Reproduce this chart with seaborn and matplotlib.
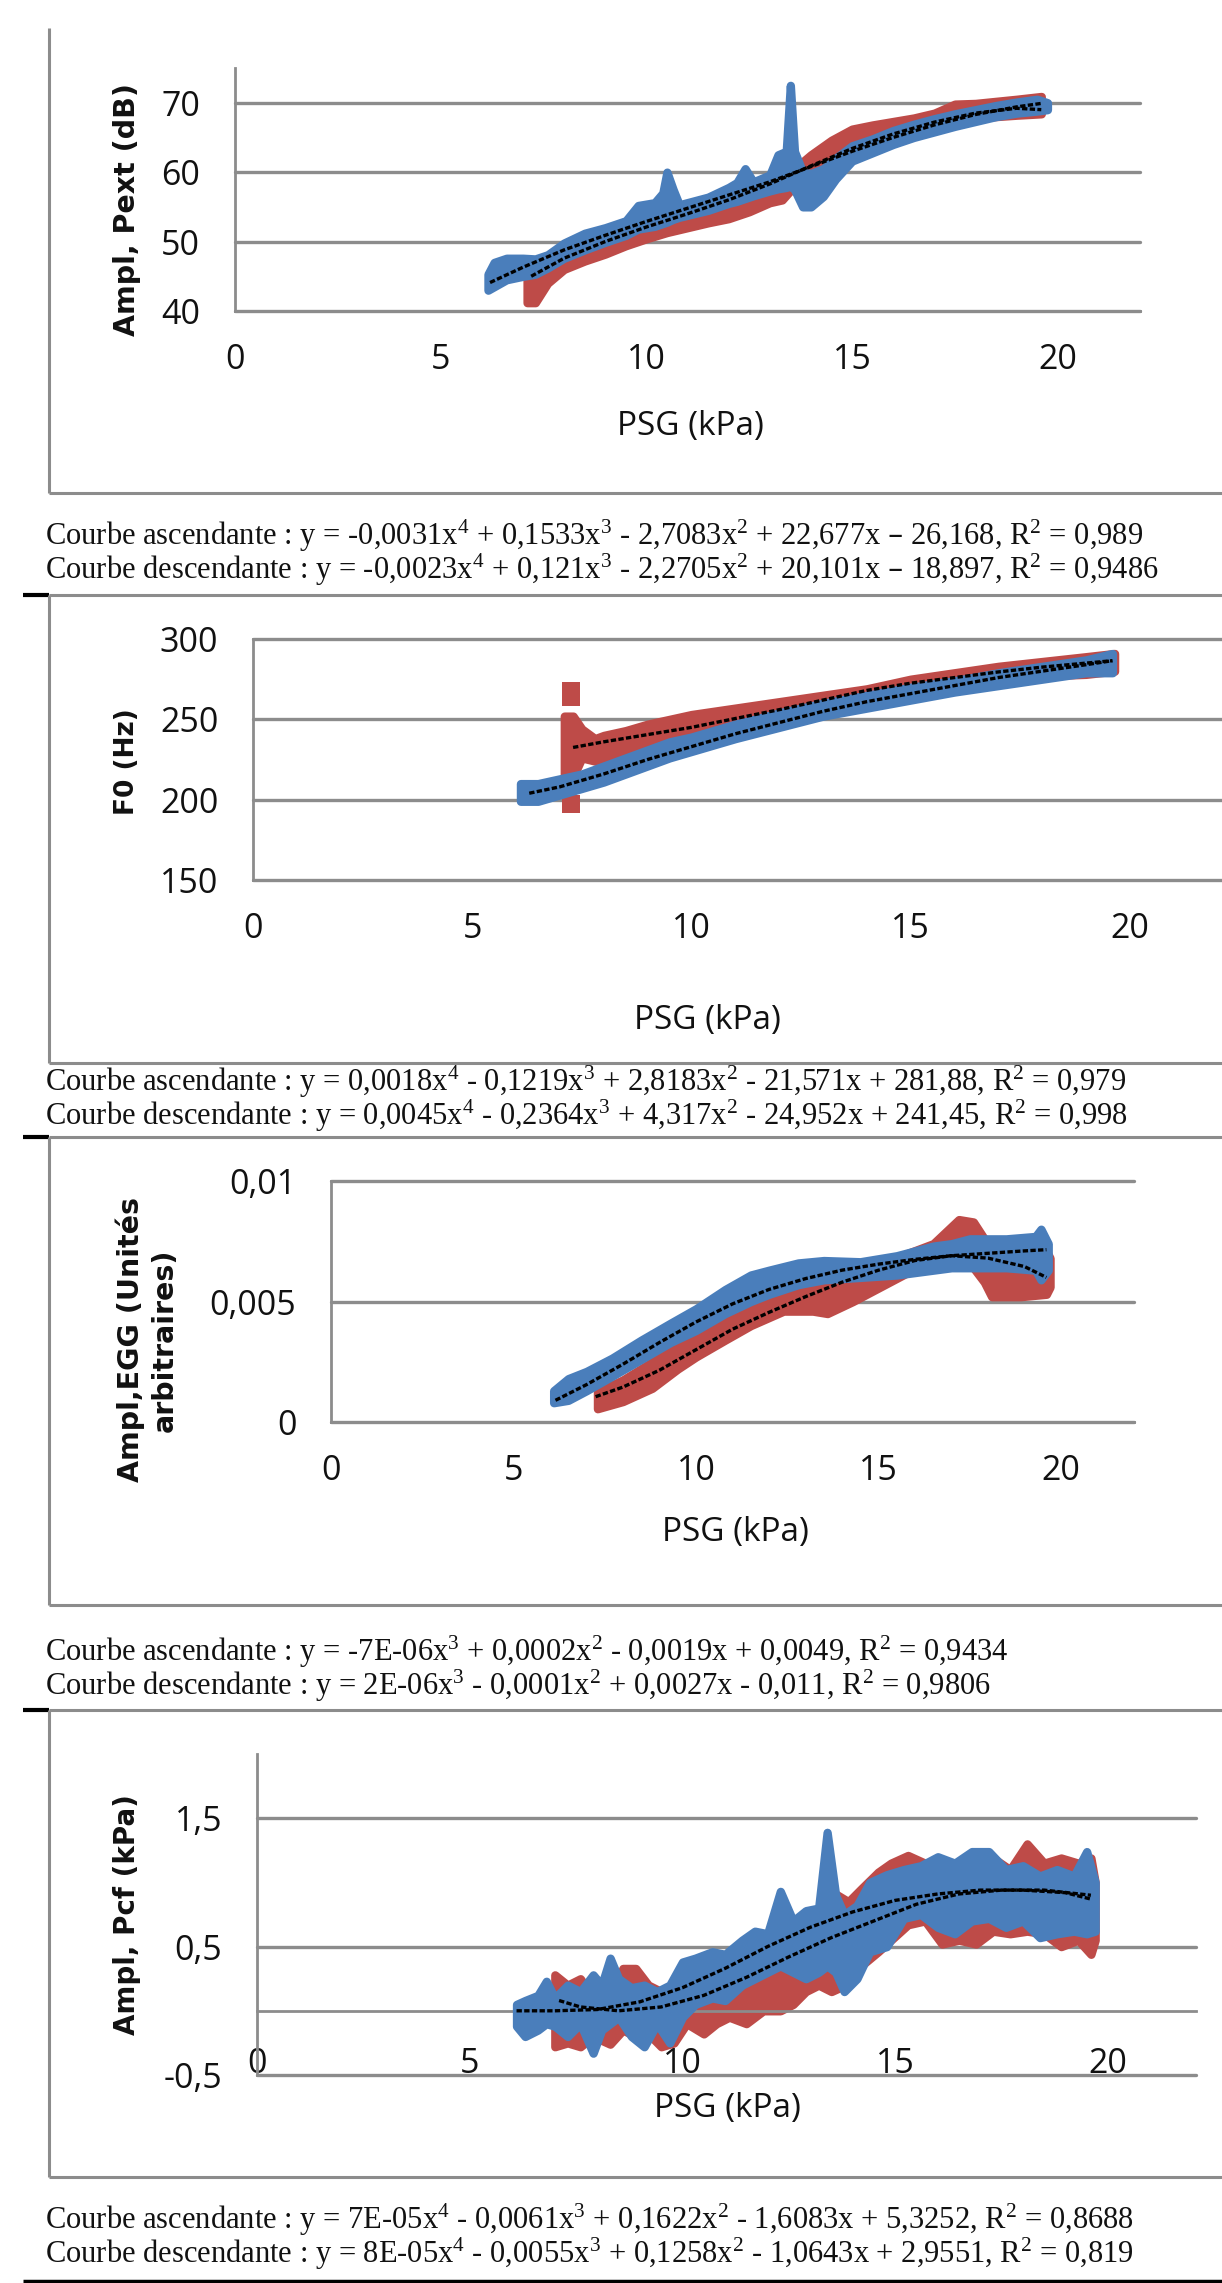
import matplotlib
matplotlib.use("Agg")
import matplotlib.pyplot as plt
import seaborn as sns

W, H = 1222, 2283
BLUE = "#4a7ebb"
RED = "#be4b48"
GRID = "#8c8c8c"

# ---------------- data ----------------
# Panel 1 : Ampl, Pext (dB)
pext_blue_x = [6.15, 6.3, 6.6, 7.0, 7.3, 7.6, 8.0, 8.5, 9.0, 9.5, 9.8, 10.2, 10.4, 10.5, 10.65,
               10.8, 11.5, 12.0, 12.2, 12.4, 12.6, 13.0, 13.2, 13.4, 13.5, 13.6, 13.8, 14.0,
               14.3, 14.6, 15.0, 15.5, 16.0, 16.5, 17.0, 17.5, 18.0, 18.5, 19.0, 19.5, 19.75]
pext_blue_lo = [43.0, 43.5, 44.5, 45.0, 45.3, 46.2, 47.6, 48.8, 49.9, 50.9, 51.8, 52.2, 52.6, 52.8,
                53.2, 53.5, 54.5, 55.5, 55.8, 56.2, 56.6, 57.3, 57.6, 57.8, 58.0, 57.5, 55.0, 55.0,
                56.5, 59.0, 61.6, 62.8, 64.0, 65.0, 65.8, 66.6, 67.3, 68.0, 68.5, 68.8, 69.0]
pext_blue_hi = [45.3, 47.0, 47.6, 47.6, 47.5, 48.1, 49.8, 51.2, 52.0, 53.0, 55.2, 55.6, 57.0, 60.0,
                57.5, 55.3, 56.4, 57.8, 58.5, 60.5, 58.6, 59.6, 62.5, 63.0, 72.5, 63.0, 60.0, 59.8,
                60.5, 62.0, 63.8, 64.8, 66.0, 66.9, 67.7, 68.4, 69.0, 69.6, 70.1, 70.5, 70.0]
pext_red_x = [7.1, 7.3, 7.6, 8.0, 8.5, 9.0, 9.5, 10.0, 10.5, 11.0, 11.5, 12.0, 12.5, 13.0, 13.3,
              13.6, 14.0, 14.5, 15.0, 15.5, 16.0, 16.5, 17.0, 17.5, 18.0, 18.5, 19.0, 19.6]
pext_red_lo = [41.2, 41.2, 44.0, 46.0, 47.2, 48.2, 49.4, 50.4, 51.3, 52.0, 52.7, 53.3, 54.3, 55.6,
               56.0, 58.0, 59.0, 60.8, 62.4, 63.8, 64.8, 65.6, 66.4, 67.2, 67.8, 68.0, 68.2, 68.4]
pext_red_hi = [44.8, 45.5, 47.0, 48.6, 49.6, 50.8, 51.9, 53.0, 53.8, 54.5, 55.2, 56.0, 57.0, 58.3,
               58.8, 60.5, 62.5, 64.6, 66.2, 66.8, 67.3, 67.8, 68.5, 69.8, 69.9, 70.2, 70.5, 70.9]
pext_fit_blue_x = [6.2, 7, 8, 9, 10, 11, 12, 13, 14, 15, 16, 17, 18, 19, 19.6]
pext_fit_blue_y = [44.1, 46.3, 48.8, 50.9, 52.9, 54.8, 56.7, 58.6, 60.8, 63.0, 65.0, 66.8, 68.3, 69.4, 69.9]
pext_fit_red_x = [7.2, 8, 9, 10, 11, 12, 13, 14, 15, 16, 17, 18, 19, 19.6]
pext_fit_red_y = [45.0, 47.6, 50.0, 52.1, 54.0, 56.0, 58.3, 60.9, 63.4, 65.5, 67.2, 68.5, 69.2, 69.0]

# Panel 2 : F0 (Hz)
f0_blue_x = [6.1, 6.5, 7.0, 7.5, 8.0, 8.5, 9.0, 9.5, 10.0, 11.0, 12.0, 13.0, 14.0, 15.0, 16.0,
             17.0, 18.0, 19.0, 19.6]
f0_blue_lo = [199, 199, 203, 207, 211, 216, 221, 226, 230, 238, 245, 252, 257, 262, 267, 271, 275, 279, 279]
f0_blue_hi = [210, 210, 213, 216, 221, 226, 231, 236, 239, 247, 254, 260, 265, 270, 274, 279, 283, 287, 291]
f0_red_x = [7.1, 7.3, 7.5, 7.8, 8.0, 8.5, 9.0, 9.5, 10.0, 11.0, 12.0, 13.0, 14.0, 15.0, 16.0,
            17.0, 18.0, 19.0, 19.65]
f0_red_lo = [216, 214, 226, 224, 223, 228, 235, 238, 241, 247, 252, 256, 261, 266, 271, 275, 277, 278, 280]
f0_red_hi = [252, 252, 244, 238, 240, 243, 247, 250, 253, 257, 261, 265, 269, 275, 279, 283, 286, 289, 291]
f0_red_out_x = [7.25, 7.25, 7.25]
f0_red_out_y = [267.5, 264.0, 197.0]
f0_fit_blue_x = [6.3, 7, 8, 9, 10, 11, 12, 13, 14, 15, 16, 17, 18, 19, 19.6]
f0_fit_blue_y = [204, 208, 216, 225, 233, 241, 248, 255, 261, 266, 271, 276, 280, 284, 286.5]
f0_fit_red_x = [7.3, 8, 9, 10, 11, 12, 13, 14, 15, 16, 17, 18, 19, 19.6]
f0_fit_red_y = [232.5, 236, 240.5, 245, 250.5, 256, 262, 268, 272.5, 276, 279.5, 282.5, 285, 286.5]

# Panel 3 : Ampl, EGG (arbitrary units)
egg_blue_x = [6.1, 6.5, 7.0, 7.7, 8.5, 9.3, 10.0, 10.8, 11.5, 12.0, 12.8, 13.5, 14.5, 15.5,
              16.5, 17.0, 17.5, 18.5, 19.3, 19.45, 19.65]
egg_blue_lo = [0.0008, 0.0009, 0.0013, 0.0019, 0.0026, 0.0033, 0.0038, 0.0045, 0.0050, 0.0053, 0.0057,
               0.0059, 0.0060, 0.0061, 0.0063, 0.0064, 0.0064, 0.0064, 0.0063, 0.0059, 0.0063]
egg_blue_hi = [0.0013, 0.0018, 0.0021, 0.00265, 0.0034, 0.0041, 0.0047, 0.0055, 0.0061, 0.0063, 0.0066,
               0.0067, 0.00665, 0.0069, 0.0073, 0.0074, 0.0076, 0.0076, 0.0077, 0.0080, 0.0074]
egg_red_x = [7.3, 8.0, 8.8, 9.5, 10.0, 10.8, 11.5, 12.4, 13.2, 13.6, 14.3, 15.3, 15.8, 16.5,
             17.2, 17.6, 17.9, 18.1, 18.9, 19.6, 19.7]
egg_red_lo = [0.00055, 0.00085, 0.0014, 0.0022, 0.0027, 0.0034, 0.0040, 0.0046, 0.0046, 0.0045, 0.0050,
              0.0058, 0.0062, 0.0064, 0.0065, 0.0064, 0.0058, 0.0052, 0.0052, 0.0053, 0.0056]
egg_red_hi = [0.00125, 0.00175, 0.0025, 0.0033, 0.00395, 0.0046, 0.0051, 0.0055, 0.0056, 0.0058, 0.0059,
              0.0065, 0.0070, 0.0074, 0.0084, 0.0083, 0.0076, 0.0072, 0.0071, 0.0071, 0.0068]
egg_fit_blue_x = [6.15, 7, 8, 9, 10, 11, 12, 13, 14, 15, 16, 17, 18, 19, 19.6]
egg_fit_blue_y = [0.0009, 0.00155, 0.0024, 0.0033, 0.00415, 0.0049, 0.0055, 0.00595, 0.0063, 0.00655,
                  0.00675, 0.0069, 0.0070, 0.0071, 0.00715]
egg_fit_red_x = [7.25, 8, 9, 10, 11, 12, 13, 14, 15, 16, 17, 18, 19, 19.6]
egg_fit_red_y = [0.00105, 0.00145, 0.00215, 0.0030, 0.00385, 0.00455, 0.0052, 0.0058, 0.0063, 0.0067,
                 0.0069, 0.0068, 0.00645, 0.0060]

# Panel 4 : Ampl, Pcf (kPa)
pcf_blue_x = [6.1, 6.3, 6.6, 6.8, 7.0, 7.3, 7.6, 7.9, 8.1, 8.3, 8.5, 8.8, 9.1, 9.4, 9.7, 10.0,
              10.3, 10.7, 11.0, 11.4, 11.7, 12.0, 12.3, 12.6, 12.9, 13.2, 13.4, 13.6, 13.8, 14.1,
              14.4, 14.8, 15.2, 15.6, 16.0, 16.4, 16.8, 17.2, 17.6, 18.0, 18.4, 18.8, 19.2, 19.5, 19.7]
pcf_blue_lo = [-0.12, -0.2, -0.15, -0.1, -0.12, -0.2, -0.1, -0.33, -0.15, -0.1, -0.05, -0.2, -0.28,
               -0.1, -0.25, -0.05, 0.05, 0.1, 0.08, 0.2, 0.25, 0.3, 0.35, 0.3, 0.25, 0.3, 0.35, 0.3,
               0.15, 0.25, 0.46, 0.5, 0.72, 0.75, 0.65, 0.6, 0.7, 0.72, 0.65, 0.7, 0.57, 0.6, 0.62,
               0.6, 0.62]
pcf_blue_hi = [0.05, 0.08, 0.12, 0.23, 0.1, 0.2, 0.15, 0.28, 0.2, 0.41, 0.25, 0.18, 0.2, 0.15, 0.2,
               0.38, 0.41, 0.46, 0.44, 0.55, 0.62, 0.6, 0.93, 0.7, 0.78, 0.8, 1.39, 0.9, 0.75, 0.82,
               1.0, 1.06, 1.1, 1.13, 1.2, 1.15, 1.24, 1.24, 1.1, 1.13, 1.05, 1.1, 1.05, 1.24, 1.0]
pcf_red_x = [7.0, 7.3, 7.6, 7.9, 8.3, 8.6, 8.9, 9.2, 9.5, 9.8, 10.1, 10.5, 10.8, 11.1, 11.5, 11.9,
             12.3, 12.6, 12.9, 13.2, 13.5, 13.9, 14.2, 14.6, 14.9, 15.3, 15.7, 16.1, 16.5, 16.9,
             17.3, 17.7, 18.1, 18.5, 18.9, 19.3, 19.6, 19.7]
pcf_red_lo = [-0.28, -0.25, -0.28, -0.2, -0.26, -0.15, -0.2, -0.18, -0.28, -0.25, -0.1, -0.18, -0.1,
              -0.05, -0.1, 0.0, 0.0, 0.05, 0.15, 0.2, 0.15, 0.21, 0.35, 0.46, 0.55, 0.67, 0.7, 0.52,
              0.55, 0.52, 0.62, 0.6, 0.62, 0.6, 0.5, 0.55, 0.44, 0.55]
pcf_red_hi = [0.28, 0.2, 0.25, 0.1, 0.1, 0.33, 0.33, 0.2, 0.15, 0.1, 0.2, 0.15, 0.2, 0.3, 0.31, 0.35,
              0.41, 0.45, 0.7, 0.8, 0.93, 0.85, 0.95, 1.08, 1.15, 1.21, 1.15, 1.13, 1.0, 1.1, 1.19,
              1.1, 1.3, 1.15, 1.19, 1.15, 1.19, 1.0]
pcf_fit_blue_x = [6.1, 7, 8, 9, 10, 11, 12, 13, 14, 15, 16, 17, 18, 19, 19.6]
pcf_fit_blue_y = [0.0, 0.0, 0.01, 0.07, 0.18, 0.33, 0.5, 0.65, 0.77, 0.86, 0.91, 0.94, 0.94, 0.92, 0.87]
pcf_fit_red_x = [7.1, 7.6, 8.5, 9.5, 10.5, 11.5, 12.5, 13.5, 14.5, 15.5, 16.5, 17.5, 18.5, 19.6]
pcf_fit_red_y = [0.08, 0.03, 0.0, 0.03, 0.12, 0.26, 0.42, 0.57, 0.7, 0.83, 0.91, 0.94, 0.94, 0.9]

x_ticks = [0, 5, 10, 15, 20]
x_ticklabels = ["0", "5", "10", "15", "20"]

eq_lines = [
    ["Courbe ascendante : y = -0,0031x$^{4}$ + 0,1533x$^{3}$ - 2,7083x$^{2}$ + 22,677x \u2013 26,168, R$^{2}$ = 0,989",
     "Courbe descendante : y = -0,0023x$^{4}$ + 0,121x$^{3}$ - 2,2705x$^{2}$ + 20,101x \u2013 18,897, R$^{2}$ = 0,9486"],
    ["Courbe ascendante : y = 0,0018x$^{4}$ - 0,1219x$^{3}$ + 2,8183x$^{2}$ - 21,571x + 281,88, R$^{2}$ = 0,979",
     "Courbe descendante : y = 0,0045x$^{4}$ - 0,2364x$^{3}$ + 4,317x$^{2}$ - 24,952x + 241,45, R$^{2}$ = 0,998"],
    ["Courbe ascendante : y = -7E-06x$^{3}$ + 0,0002x$^{2}$ - 0,0019x + 0,0049, R$^{2}$ = 0,9434",
     "Courbe descendante : y = 2E-06x$^{3}$ - 0,0001x$^{2}$ + 0,0027x - 0,011, R$^{2}$ = 0,9806"],
    ["Courbe ascendante : y = 7E-05x$^{4}$ - 0,0061x$^{3}$ + 0,1622x$^{2}$ - 1,6083x + 5,3252, R$^{2}$ = 0,8688",
     "Courbe descendante : y = 8E-05x$^{4}$ - 0,0055x$^{3}$ + 0,1258x$^{2}$ - 1,0643x + 2,9551, R$^{2}$ = 0,819"],
]

# ---------------- style ----------------
sns.set_style("white")
plt.rcParams["font.family"] = ["Open Sans", "DejaVu Sans"]
plt.rcParams["mathtext.default"] = "regular"

fig = plt.figure(figsize=(W / 100, H / 100), dpi=100)

bg = fig.add_axes([0, 0, 1, 1])
bg.set_xlim(0, W)
bg.set_ylim(H, 0)
bg.axis("off")


def rect(l, t, r, b):
    return [l / W, 1 - b / H, (r - l) / W, (b - t) / H]


def hline(y, x0, x1, color=GRID, lw=2.2):
    bg.plot([x0, x1], [y, y], color=color, lw=lw, solid_capstyle="butt")


def vline(x, y0, y1, color=GRID, lw=2.2):
    bg.plot([x, x], [y0, y1], color=color, lw=lw, solid_capstyle="butt")


def panel(box, xlim, ylim, yticks, yticklabels, blue, red, fit_blue, fit_red, zero_axis=False):
    ax = fig.add_axes(rect(*box))
    ax.set_facecolor("none")
    # the point clouds: filled band plus a thick edge standing in for the marker size
    ax.fill_between(red[0], red[1], red[2], facecolor=RED, edgecolor=RED, lw=6,
                    joinstyle="round", zorder=2)
    ax.fill_between(blue[0], blue[1], blue[2], facecolor=BLUE, edgecolor=BLUE, lw=6,
                    joinstyle="round", zorder=3)
    sns.lineplot(x=fit_red[0], y=fit_red[1], ax=ax, color="black", lw=2.4,
                 linestyle=(0, (1.6, 0.7)), zorder=4)
    sns.lineplot(x=fit_blue[0], y=fit_blue[1], ax=ax, color="black", lw=2.4,
                 linestyle=(0, (1.6, 0.7)), zorder=4)
    ax.set_xlim(*xlim)
    ax.set_ylim(*ylim)
    ax.set_xticks(x_ticks, labels=x_ticklabels)
    ax.set_yticks(yticks, labels=yticklabels)
    ax.yaxis.grid(True, color=GRID, lw=2.4)
    ax.xaxis.grid(False)
    for gl in ax.get_ygridlines():
        gl.set_clip_on(False)
    ax.set_axisbelow(True)
    for s in ["top", "right"]:
        ax.spines[s].set_visible(False)
    for s in ["left", "bottom"]:
        ax.spines[s].set_color(GRID)
        ax.spines[s].set_linewidth(2.0)
    if zero_axis:
        ax.spines["bottom"].set_position(("data", 0))
        xpad = 17
    else:
        xpad = 14
    ax.tick_params(axis="x", direction="out", length=9, width=2.0, color=GRID,
                   labelsize=24.5, pad=xpad, labelcolor="#111111")
    ax.tick_params(axis="y", direction="out", length=9, width=2.0, color=GRID,
                   labelsize=24.5, pad=16, labelcolor="#111111")
    ax.set_xlabel("")
    ax.set_ylabel("")
    return ax


# panel 1
panel((235, 68, 1140, 311), (0, 22), (40, 75), [40, 50, 60, 70], ["40", "50", "60", "70"],
      (pext_blue_x, pext_blue_lo, pext_blue_hi), (pext_red_x, pext_red_lo, pext_red_hi),
      (pext_fit_blue_x, pext_fit_blue_y), (pext_fit_red_x, pext_fit_red_y))

# panel 2
ax2 = panel((253, 639, 1222, 880), (0, 22.1), (150, 300), [150, 200, 250, 300],
            ["150", "200", "250", "300"],
            (f0_blue_x, f0_blue_lo, f0_blue_hi), (f0_red_x, f0_red_lo, f0_red_hi),
            (f0_fit_blue_x, f0_fit_blue_y), (f0_fit_red_x, f0_fit_red_y))
sns.scatterplot(x=f0_red_out_x, y=f0_red_out_y, ax=ax2, color=RED, marker="s", s=150,
                linewidth=0, zorder=2)

# panel 3
panel((331, 1181, 1134, 1422), (0, 22), (0, 0.01), [0, 0.005, 0.01], ["0", "0,005", "0,01"],
      (egg_blue_x, egg_blue_lo, egg_blue_hi), (egg_red_x, egg_red_lo, egg_red_hi),
      (egg_fit_blue_x, egg_fit_blue_y), (egg_fit_red_x, egg_fit_red_y))

# panel 4
panel((257, 1754, 1196, 2075), (0, 22.07), (-0.5, 2.0), [-0.5, 0.5, 1.5], ["-0,5", "0,5", "1,5"],
      (pcf_blue_x, pcf_blue_lo, pcf_blue_hi), (pcf_red_x, pcf_red_lo, pcf_red_hi),
      (pcf_fit_blue_x, pcf_fit_blue_y), (pcf_fit_red_x, pcf_fit_red_y), zero_axis=True)

# frames around the panels
vline(49, 28, 493)
hline(493, 49, W)
for top, bottom in [(595, 1063), (1137, 1605), (1710, 2177)]:
    hline(top, 49, W)
    hline(top, 23, 49, color="black", lw=3)
    vline(49, top, bottom)
    hline(bottom, 49, W)
hline(2281, 23, W, color="black", lw=2.5)

# axis titles
ylab_kw = dict(rotation=90, ha="center", va="center", fontweight="bold",
               family=["DejaVu Sans"], color="#111111")
bg.text(127, 210, "Ampl, Pext (dB)", fontsize=20.5, **ylab_kw)
bg.text(127, 762, "F0 (Hz)", fontsize=19, **ylab_kw)
bg.text(147, 1340, "Ampl,EGG (Unités\narbitraires)", fontsize=20.5, linespacing=1.25,
        multialignment="center", **ylab_kw)
bg.text(127, 1915, "Ampl, Pcf (kPa)", fontsize=20, **ylab_kw)

xlab_kw = dict(ha="center", va="center", fontsize=24, color="#111111")
bg.text(690, 427, "PSG (kPa)", **xlab_kw)
bg.text(707, 1020, "PSG (kPa)", **xlab_kw)
bg.text(735, 1533, "PSG (kPa)", **xlab_kw)
bg.text(727, 2109, "PSG (kPa)", **xlab_kw)

# trend-line equations
eq_baselines = [(545, 579), (1091, 1125), (1661, 1695), (2229, 2263)]
for lines, ys in zip(eq_lines, eq_baselines):
    for s, y in zip(lines, ys):
        bg.text(45, y, s, ha="left", va="baseline", fontsize=22,
                family=["Liberation Serif", "DejaVu Serif"], color="#111111")

fig.savefig("out.png", dpi=100)
